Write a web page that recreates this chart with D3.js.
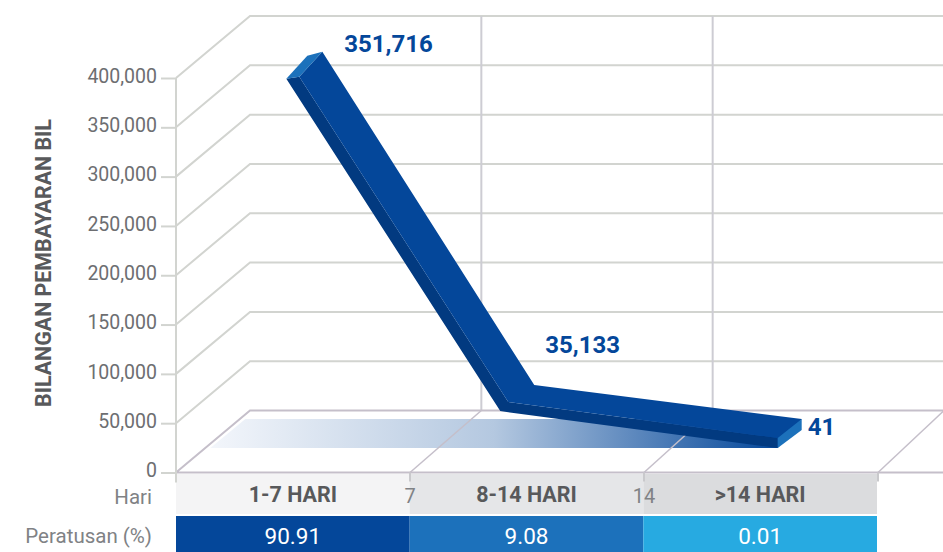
<!DOCTYPE html>
<html>
<head>
<meta charset="utf-8">
<script src="https://cdn.jsdelivr.net/npm/d3@7"></script>
<style>
html, body { margin: 0; padding: 0; background: #fff; overflow: hidden; }
svg { display: block; font-family: Roboto, sans-serif; }
</style>
</head>
<body>
<svg id="chart" width="943" height="552"></svg>
<script>
// data
var yTicks = [0, 50000, 100000, 150000, 200000, 250000, 300000, 350000, 400000];
var dayTicks = [0, 7, 14, 21];
var dayLabels = ["7", "14"];
var categories = ["1-7 HARI", "8-14 HARI", ">14 HARI"];
var paymentValues = [351716, 35133, 41];
var paymentLabels = ["351,716", "35,133", "41"];
var pointDays = [3.3, 9.7, 18];
var percentLabels = ["90.91", "9.08", "0.01"];
var headColors = ["#f4f4f5", "#e5e6e8", "#dbdcde"];
var percentColors = ["#04479a", "#1c71bb", "#27aae1"];

var svg = d3.select("#chart");

var depthY = 62;

var x = d3.scaleLinear().domain([0, 21]).range([176, 878]);
var xBack = d3.scaleLinear().domain([0, 21]).range([250, 944]);
var y = d3.scaleLinear().domain([0, 400000]).range([472.5, 78]);
// the ribbon sits on its own scale, it does not follow the axis
var yRibbon = d3.scaleLinear().domain([0, 400000]).range([448, 28]);

var grey = "#6d6e71";
var wallColor = "#d2d4d0";
var floorColor = "#c5bfca";

// gradient shadow on the floor
var defs = svg.append("defs");
var grad = defs.append("linearGradient").attr("id", "shadow")
   .attr("gradientUnits", "userSpaceOnUse")
   .attr("x1", x(pointDays[0]) - 76).attr("x2", x(pointDays[2])).attr("y1", 0).attr("y2", 0);
grad.append("stop").attr("offset", 0).attr("stop-color", "#f3f6fb");
grad.append("stop").attr("offset", 0.5).attr("stop-color", "#b4c8e0");
grad.append("stop").attr("offset", 1).attr("stop-color", "#04479a");

var line = d3.line();

var shadowBottom = yRibbon(0);
var shadowTop = shadowBottom - 29;
svg.append("path")
   .attr("fill", "url(#shadow)")
   .attr("d", line([
      [x(pointDays[0]) - 76, shadowBottom],
      [x(pointDays[0]) - 41, shadowTop],
      [x(pointDays[2]) + 24, shadowTop],
      [x(pointDays[2]), shadowBottom]
   ]) + "Z");

//-------------
//- back wall grid
//-------------
var grid = svg.append("g").attr("fill", "none").attr("stroke-width", 2);

grid.selectAll(".wall")
   .data(yTicks.filter(function(d) { return d > 0; }))
   .enter().append("path")
   .attr("class", "wall")
   .attr("stroke", wallColor)
   .attr("d", function(d) {
      return line([[x(0), y(d)], [xBack(0), y(d) - depthY], [943, y(d) - depthY]]);
   });

grid.selectAll(".vert")
   .data(dayTicks.slice(1, 3))
   .enter().append("path")
   .attr("class", "vert")
   .attr("stroke", "#cdccd3")
   .attr("d", function(d) {
      return line([[xBack(d), y(400000) - depthY], [xBack(d), y(0) - depthY]]);
   });

//-------------
//- floor
//-------------
grid.append("path")
   .attr("stroke", floorColor)
   .attr("d", line([[943, y(0) - depthY], [xBack(0), y(0) - depthY], [x(0), y(0)], [943, y(0)]]));

grid.selectAll(".diag")
   .data(dayTicks.slice(1))
   .enter().append("path")
   .attr("class", "diag")
   .attr("stroke", floorColor)
   .attr("stroke-width", 1.5)
   .attr("d", function(d) {
      return line([[x(d), y(0)], [xBack(d), y(0) - depthY]]);
   });

//-------------
//- table under the chart
//-------------
var band = d3.scaleBand().domain(categories).range([176, 877]);

svg.selectAll(".head")
   .data(categories)
   .enter().append("rect")
   .attr("class", "head")
   .attr("x", function(d) { return band(d); })
   .attr("y", 474)
   .attr("width", band.bandwidth())
   .attr("height", 40)
   .attr("fill", function(d, i) { return headColors[i]; });

svg.selectAll(".pct")
   .data(categories)
   .enter().append("rect")
   .attr("class", "pct")
   .attr("x", function(d) { return band(d); })
   .attr("y", 516)
   .attr("width", band.bandwidth())
   .attr("height", 36)
   .attr("fill", function(d, i) { return percentColors[i]; });

svg.selectAll(".headLabel")
   .data(categories)
   .enter().append("text")
   .attr("class", "headLabel")
   .attr("x", function(d) { return band(d) + band.bandwidth() / 2; })
   .attr("y", 502)
   .attr("text-anchor", "middle")
   .attr("font-size", 21.5)
   .attr("font-weight", 700)
   .attr("fill", "#58595b")
   .text(function(d) { return d; });

svg.selectAll(".pctLabel")
   .data(percentLabels)
   .enter().append("text")
   .attr("class", "pctLabel")
   .attr("x", function(d, i) { return band(categories[i]) + band.bandwidth() / 2; })
   .attr("y", 544)
   .attr("text-anchor", "middle")
   .attr("font-size", 22.5)
   .attr("fill", "#fff")
   .text(function(d) { return d; });

svg.selectAll(".dayLabel")
   .data(dayLabels)
   .enter().append("text")
   .attr("class", "dayLabel")
   .attr("x", function(d) { return x(+d); })
   .attr("y", 503)
   .attr("text-anchor", "middle")
   .attr("font-size", 20)
   .attr("fill", "#808285")
   .text(function(d) { return d; });

svg.selectAll(".rowLabel")
   .data(["Hari", "Peratusan (%)"])
   .enter().append("text")
   .attr("class", "rowLabel")
   .attr("x", 152)
   .attr("y", function(d, i) { return i == 0 ? 504 : 543; })
   .attr("text-anchor", "end")
   .attr("font-size", 20.5)
   .attr("fill", "#808285")
   .text(function(d) { return d; });

//-------------
//- y axis + x ticks
//-------------
var yAxis = svg.append("g")
   .attr("transform", "translate(" + x(0) + ",0)")
   .call(d3.axisLeft(y).tickValues(yTicks).tickSize(15).tickPadding(4).tickFormat(d3.format(",")));

yAxis.select(".domain").remove();
yAxis.selectAll("line").attr("stroke", wallColor).attr("stroke-width", 2);
yAxis.selectAll("text").attr("font-size", 19.5).attr("font-family", "Roboto, sans-serif")
   .attr("fill", grey).attr("y", -2);

svg.append("path")
   .attr("fill", "none")
   .attr("stroke", wallColor)
   .attr("stroke-width", 2)
   .attr("d", line([[x(0), y(400000)], [x(0), y(0) + 10]]));

svg.selectAll(".xTick")
   .data(dayTicks.slice(1))
   .enter().append("path")
   .attr("class", "xTick")
   .attr("stroke", "#c9c9cc")
   .attr("stroke-width", 2)
   .attr("d", function(d) { return line([[x(d), y(0)], [x(d), y(0) + 9]]); });

svg.append("text")
   .attr("transform", "translate(51,263) rotate(-90)")
   .attr("text-anchor", "middle")
   .attr("font-size", 21.4)
   .attr("font-weight", 700)
   .attr("fill", "#58595b")
   .text("BILANGAN PEMBAYARAN BIL");

//-------------
//- 3d ribbon
//-------------
var base = pointDays.map(function(d, i) { return [x(d), yRibbon(paymentValues[i])]; });
// joint offsets of the ribbon edges, front edge and back edge
var frontOffset = [[13, -2], [8, -9], [0, -10]];
var backOffset = [[36, -27], [34, -26], [24, -29]];

var front = base.map(function(p, i) { return [p[0] + frontOffset[i][0], p[1] + frontOffset[i][1]]; });
var back = base.map(function(p, i) { return [p[0] + backOffset[i][0], p[1] + backOffset[i][1]]; });

var ribbon = svg.append("g");

ribbon.append("path").attr("fill", "#023a80")
   .attr("d", line(base.concat(front.slice().reverse())) + "Z");

ribbon.append("path").attr("fill", "#04479a")
   .attr("d", line(front.concat(back.slice().reverse())) + "Z");

// start cap
ribbon.append("path").attr("fill", "#1c71bb")
   .attr("d", line([base[0], front[0], back[0], [back[0][0] - 15, back[0][1] + 4]]) + "Z");

// end cap
ribbon.append("path").attr("fill", "#1c71bb")
   .attr("d", line([base[2], front[2], back[2], [back[2][0], back[2][1] + 11]]) + "Z");

var labelDx = [58, 45, 30];
var labelDy = [-27, -58, -13];

svg.selectAll(".valueLabel")
   .data(paymentLabels)
   .enter().append("text")
   .attr("class", "valueLabel")
   .attr("x", function(d, i) { return base[i][0] + labelDx[i]; })
   .attr("y", function(d, i) { return base[i][1] + labelDy[i]; })
   .attr("font-size", 24)
   .attr("font-weight", 700)
   .attr("fill", "#04479a")
   .text(function(d) { return d; });
</script>
</body>
</html>
